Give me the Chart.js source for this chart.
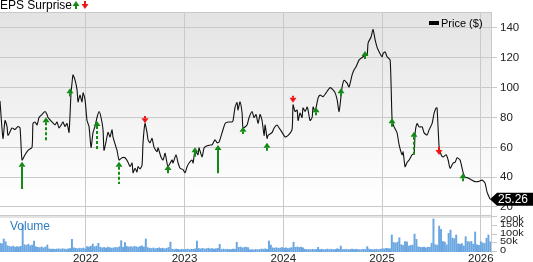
<!DOCTYPE html>
<html><head><meta charset="utf-8">
<script src="https://cdn.jsdelivr.net/npm/chart.js@4.4.1/dist/chart.umd.min.js"></script>
<style>html,body{margin:0;padding:0;background:#fff;}#wrap{width:533px;height:262px;position:relative;}</style>
</head><body><div id="wrap"><canvas id="c" width="533" height="262"></canvas></div>
<script>
// ---- DATA ----
const xStartYear = 2021.132;
const xEndYear = 2026.103;
const xTickYears = [2022, 2023, 2024, 2025, 2026];
const priceTicks = [20, 40, 60, 80, 100, 120, 140];
const volumeTicks = [0, 50, 100, 150, 200];
const volumeTickLabels = ['0', '50k', '100k', '150k', '200k'];

// price: dates as decimal years, close in $
const priceDates = [
2021.132,2021.162,2021.183,2021.203,2021.213,2021.254,2021.284,2021.314,2021.335,2021.355,
2021.385,2021.416,2021.456,2021.466,2021.486,2021.507,2021.527,2021.557,2021.588,2021.608,
2021.618,2021.659,2021.689,2021.709,2021.730,2021.760,2021.770,2021.790,2021.811,2021.831,
2021.851,2021.861,2021.871,2021.892,2021.912,2021.922,2021.942,2021.962,2021.973,2021.993,
2022.013,2022.033,2022.054,2022.074,2022.094,2022.114,2022.135,2022.155,2022.175,2022.185,
2022.205,2022.226,2022.246,2022.266,2022.276,2022.307,2022.317,2022.337,2022.367,2022.398,
2022.428,2022.449,2022.469,2022.479,2022.499,2022.519,2022.529,2022.550,2022.570,2022.580,
2022.600,2022.621,2022.631,2022.651,2022.671,2022.692,2022.722,2022.732,2022.762,2022.783,
2022.803,2022.823,2022.833,2022.874,2022.884,2022.914,2022.935,2022.955,2022.985,
2023.006,2023.026,2023.046,2023.076,2023.087,2023.107,2023.137,2023.147,2023.178,2023.198,
2023.228,2023.259,2023.279,2023.309,2023.330,2023.350,2023.380,2023.411,2023.441,2023.481,
2023.492,2023.512,2023.532,2023.542,2023.562,2023.583,2023.593,2023.633,2023.654,2023.684,
2023.704,2023.724,2023.745,2023.765,2023.785,2023.806,2023.816,2023.836,2023.846,2023.887,
2023.907,2023.937,2023.958,2023.988,
2024.018,2024.049,2024.089,2024.099,2024.119,2024.140,2024.150,2024.170,2024.190,2024.200,
2024.221,2024.241,2024.251,2024.271,2024.292,2024.302,2024.322,2024.352,2024.373,2024.403,
2024.433,2024.454,2024.474,2024.504,2024.525,2024.545,2024.565,2024.595,2024.616,2024.646,
2024.666,2024.697,2024.717,2024.737,2024.768,2024.808,2024.828,2024.849,2024.859,2024.889,
2024.909,2024.930,2024.950,2024.970,
2025.000,2025.011,2025.031,2025.051,2025.082,2025.102,2025.122,2025.152,2025.173,2025.203,
2025.213,2025.233,2025.254,2025.274,2025.304,2025.325,2025.335,2025.355,2025.375,2025.406,
2025.426,2025.456,2025.476,2025.507,2025.527,2025.547,2025.557,2025.578,2025.598,2025.618,
2025.649,2025.669,2025.689,2025.720,2025.740,2025.760,2025.790,2025.821,2025.841,2025.871,
2025.912,2025.942,2025.972,2026.013,2026.043,2026.063,2026.094
];
const priceValues = [
91,66,78,74,68,73,72,74,73,51.5,
55,58,60,76,77,75,80,82,84,82,
80,77,75,77,73,76,77,74,76,70,
96.5,103,108.6,105,98.5,90.5,95,90.5,96.5,92,
78,74,60,70,74,80,84,80,72,58,
63.6,70,67,72,67,60,58,51.5,53,53,
50,47,49.5,43,46,43.5,47,45.5,48,63,
76,69.7,65,63,66,60,57,59.6,53.5,51.5,
56,49.5,47,51.5,49.5,55,49.5,46,45,
43,47,49.5,51.5,49.5,58,55,59.6,53.5,59.6,
61,61.6,61.6,65,63,63.6,69.7,76,77,77,
78,87,90,85,90.5,83,73,75,80,84,
80,82,76,82,78,68,75,66,68,70,
73,75,73,70,
67,68,72,88.5,84,85,78,83,80,86.4,
84,87,85,78,80,87,84,93,95,94,
96.5,98.5,100,98.5,96.5,92,84,100,105,103,
100.5,108.6,112,114,118.6,120.7,122,122,130,134,
139,132,127,124,
120.7,123,124,120.7,118.6,78,73.7,69.7,61.6,55,
57,47,50,51.5,55,56,69.7,76,73.7,73.7,
69.7,68.3,71.7,76,83,86.4,86.4,60,55,53.5,
55,51.5,46,49.5,50,53,51.5,43,40,39.5,
38,37,37,38,36,30,25.26
];

// weekly volume (thousands of shares), weeks starting from this date
const volumeStartDate = '2021-02-18';
const volumeK = [
50,48,75,59,36,32,30,34,28,31,
29,33,155,42,38,45,36,40,63,30,
27,25,29,24,28,40,18,16,17,15,
17,18,16,19,17,15,18,20,73,24,
21,19,22,20,23,18,31,28,33,46,
30,34,50,27,24,26,23,28,25,22,
24,27,25,30,65,28,54,32,29,31,
28,33,30,27,32,35,29,75,25,22,
20,23,19,21,24,20,22,18,21,26,
57,16,14,17,15,13,16,14,15,17,
14,16,15,18,63,20,18,21,17,19,
22,18,20,17,19,21,44,15,17,14,
16,15,14,17,16,56,27,29,24,26,
28,25,13,14,12,15,13,14,17,16,
18,15,63,40,24,22,25,21,23,26,
22,24,20,23,25,56,27,29,26,28,
24,16,14,15,13,16,14,15,27,14,
16,13,15,17,14,16,13,15,18,16,
34,15,14,16,13,15,17,14,16,15,
13,14,16,15,31,17,14,13,15,16,
14,16,19,18,21,20,19,98,55,52,
57,82,42,38,60,58,34,38,40,103,
73,30,27,26,29,24,28,27,50,190,
42,39,149,130,60,57,41,107,126,80,
77,98,47,44,48,35,88,60,58,61,
45,115,42,38,59,52,49,79,98,59
];

// EPS surprise markers
const epsDates = [2021.355,2021.598,2021.841,2022.114,2022.337,2022.600,2022.833,2023.107,2023.340,2023.593,2023.836,2024.099,2024.332,2024.585,2024.828,2025.102,2025.325,2025.578,2025.821];
const epsDirection = ['up','up','up','up','up','down','up','up','up','up','up','down','up','up','up','up','up','down','up'];
const epsTip = [50.4,80.1,99.6,77.6,50.4,76.1,48.2,60,61.6,73.8,63.1,89.9,86.8,99.6,124.6,79.5,70.5,54.9,42.6];
const epsTail = [32.1,64.4,94,58.2,35.4,81,42.6,53.7,42.6,68.9,57.7,94.4,80.5,93.5,119,73.8,54.2,60.4,36.3];
const epsDashed = [false,true,false,true,true,false,false,false,false,true,false,false,true,true,true,false,true,false,true];

// ---- BUILD ----
if (priceDates.length !== priceValues.length) throw new Error('price length mismatch ' + priceDates.length + ' ' + priceValues.length);
function decYear(d){ const y=d.getUTCFullYear(); const s=Date.UTC(y,0,1), e=Date.UTC(y+1,0,1); return y + (d.getTime()-s)/(e-s); }
const vStart = new Date(volumeStartDate + 'T00:00:00Z');
const volumePoints = volumeK.map((v,i)=>({x: decYear(new Date(vStart.getTime() + i*7*86400000)), y: v}));
const pricePoints = priceDates.map((t,i)=>({x:t, y:priceValues[i]}));

const FONT = "'Liberation Sans', Arial, sans-serif";
const GRID = '#c9c9c9';
const GREEN = '#138a13', RED = '#f01414';

function drawArrow(ctx, x, tipY, tailY, up, dashed, color){
  const hw = 3.5, hh = 5;
  x = Math.round(x);
  const baseY = up ? tipY + hh : tipY - hh;
  ctx.fillStyle = color; ctx.strokeStyle = color;
  ctx.beginPath(); ctx.moveTo(x, tipY); ctx.lineTo(x-hw, baseY); ctx.lineTo(x+hw, baseY); ctx.closePath(); ctx.fill();
  let endY = tailY;
  if (up && endY < baseY + 2) endY = baseY + 2;
  if (!up && endY > baseY - 2) endY = baseY - 2;
  ctx.lineWidth = 2; ctx.setLineDash(dashed ? [3,2] : []);
  ctx.beginPath(); ctx.moveTo(x, baseY); ctx.lineTo(x, endY); ctx.stroke();
  ctx.setLineDash([]);
}

const bgPlugin = {
  id: 'bg',
  beforeDraw(chart){
    const {ctx, chartArea: ca} = chart;
    ctx.save();
    const g = ctx.createLinearGradient(0, ca.top, 0, 200);
    g.addColorStop(0, '#e3e3e3'); g.addColorStop(1, '#ffffff');
    ctx.fillStyle = g; ctx.fillRect(ca.left, ca.top, ca.right-ca.left, 215-ca.top);
    ctx.fillStyle = '#ffffff'; ctx.fillRect(ca.left, 218, ca.right-ca.left, ca.bottom-218);
    ctx.fillStyle = '#e3e3e3'; ctx.fillRect(ca.left, 215, ca.right-ca.left, 3);
    ctx.strokeStyle = GRID; ctx.lineWidth = 1;
    ctx.beginPath(); ctx.moveTo(ca.left, 215.5); ctx.lineTo(ca.right, 215.5); ctx.stroke();
    ctx.beginPath(); ctx.moveTo(ca.left, ca.top+0.5); ctx.lineTo(ca.right, ca.top+0.5); ctx.stroke();
    ctx.restore();
  },
  afterDatasetsDraw(chart){
    const {ctx} = chart; const xs = chart.scales.x, ys = chart.scales.y;
    ctx.save();
    epsDates.forEach((t,i)=>{
      const up = epsDirection[i] === 'up';
      drawArrow(ctx, xs.getPixelForValue(t), ys.getPixelForValue(epsTip[i]), ys.getPixelForValue(epsTail[i]), up, epsDashed[i], up ? GREEN : RED);
    });
    ctx.restore();
  },
  afterDraw(chart){
    const {ctx, chartArea: ca} = chart; const ys = chart.scales.y, yv = chart.scales.yVol;
    ctx.save();
    // volume axis ticks (compact labels)
    ctx.font = '11px ' + FONT; ctx.textBaseline = 'middle'; ctx.textAlign = 'left';
    volumeTicks.forEach((v,i)=>{
      const y = Math.round(yv.getPixelForValue(v)) - 0.5;
      ctx.strokeStyle = GRID; ctx.lineWidth = 1;
      ctx.beginPath(); ctx.moveTo(ca.right, y); ctx.lineTo(ca.right+6, y); ctx.stroke();
      ctx.save();
      ctx.translate(ca.right+9, Math.max(y - 0.5, 219.5));
      ctx.scale(1, 0.78);
      ctx.fillStyle = '#222'; ctx.fillText(volumeTickLabels[i], 0, 0);
      ctx.restore();
    });
    // Volume label
    ctx.fillStyle = '#2f7ec4'; ctx.font = '12px ' + FONT;
    ctx.fillText('Volume', 10, 227);
    // EPS legend
    ctx.fillStyle = '#000'; ctx.font = '12px ' + FONT;
    ctx.fillText('EPS Surprise', 0, 6);
    const w = ctx.measureText('EPS Surprise').width;
    drawArrow(ctx, w + 4, 1, 9, true, false, GREEN);
    drawArrow(ctx, w + 13, 9, 1, false, false, RED);
    // Price legend
    ctx.fillStyle = '#000'; ctx.fillRect(429, 21, 10, 4);
    ctx.font = '11px ' + FONT; ctx.fillText('Price ($)', 441, 23.5);
    // last price tag
    const last = priceValues[priceValues.length-1];
    const ty = ys.getPixelForValue(last);
    ctx.fillStyle = '#000';
    ctx.beginPath(); ctx.moveTo(ca.right-1, ty); ctx.lineTo(ca.right+6, ty-6.5); ctx.lineTo(533, ty-6.5); ctx.lineTo(533, ty+6.5); ctx.lineTo(ca.right+6, ty+6.5); ctx.closePath(); ctx.fill();
    ctx.fillStyle = '#fff'; ctx.font = '12px ' + FONT;
    ctx.fillText(last.toFixed(2), ca.right+7, ty+0.5);
    ctx.restore();
  }
};

new Chart(document.getElementById('c'), {
  data: {
    datasets: [
      { type: 'line', data: pricePoints, yAxisID: 'y', borderColor: '#111', borderWidth: 1.1, pointRadius: 0, tension: 0.2, order: 0 },
      { type: 'bar', data: volumePoints, yAxisID: 'yVol', backgroundColor: '#6aa6e0', barThickness: 1.3, order: 1 }
    ]
  },
  options: {
    responsive: false, animation: false, devicePixelRatio: 1,
    layout: { padding: { top: 12, left: 0, right: 0, bottom: 0 } },
    plugins: { legend: { display: false }, tooltip: { enabled: false } },
    scales: {
      x: {
        type: 'linear', min: xStartYear, max: xEndYear, offset: false,
        afterBuildTicks: s => { s.ticks = xTickYears.map(v => ({ value: v })); },
        afterFit: s => { s.height = 10; },
        ticks: { callback: v => String(v), font: { family: FONT, size: 11.5 }, color: '#222', padding: 0, maxRotation: 0, autoSkip: false },
        grid: { color: GRID, drawTicks: false, offset: false },
        border: { display: false }
      },
      y: {
        type: 'linear', position: 'right', min: -10.168, max: 150.726,
        afterBuildTicks: s => { s.ticks = priceTicks.map(v => ({ value: v })); },
        afterFit: s => { s.width = 42; },
        ticks: { font: { family: FONT, size: 11.5 }, color: '#222', padding: 3 },
        grid: { color: GRID, tickLength: 6 },
        border: { display: true, color: GRID }
      },
      yVol: { type: 'linear', display: false, min: 0, max: 1380, position: 'right' }
    }
  },
  plugins: [bgPlugin]
});
</script>
</body></html>
